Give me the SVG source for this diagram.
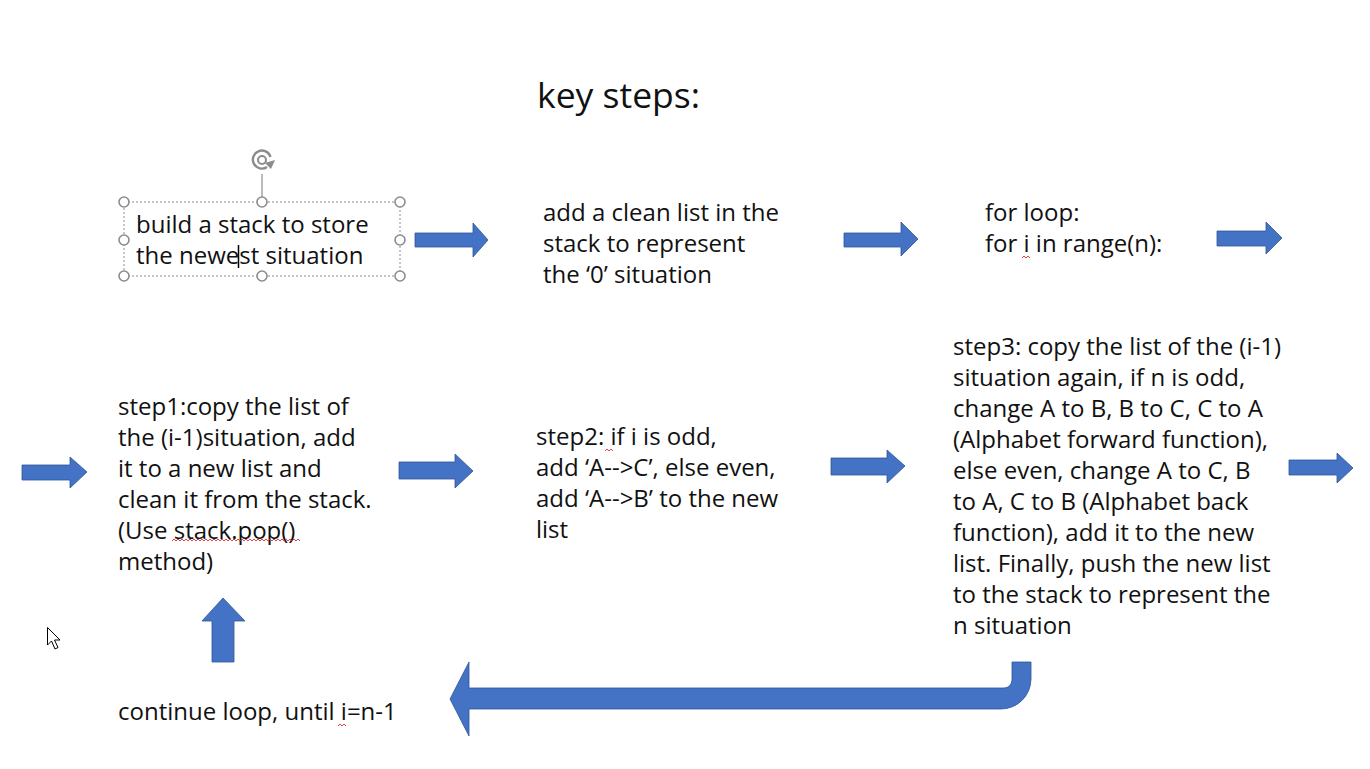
<svg xmlns="http://www.w3.org/2000/svg" width="1370" height="769" viewBox="0 0 1370 769">
<style>
  text { font-family: "Open Sans", "Liberation Sans", sans-serif; font-size: 24px; fill: #111; }
  .title { font-size: 35.5px; }
  .arrow { fill: #4472C4; stroke: #2F5597; stroke-width: 0.8; }
  .handle { fill: #fff; stroke: #8c8c8c; stroke-width: 1.6; }
  .sel { fill: none; stroke: #8c8c8c; stroke-width: 1; stroke-dasharray: 2 2; }
  .squig { fill: none; stroke: #e03030; stroke-width: 0.9; }
</style>
<rect width="1370" height="769" fill="#fff"/>

<g id="title"><text class="title" x="537" y="108">key steps:</text></g>

<g id="node-build">
  <rect class="sel" x="124" y="202" width="276" height="74"/>
  <line x1="262" y1="202" x2="262" y2="174" stroke="#8c8c8c" stroke-width="1.2"/>
  <path d="M270.5,157 A9,9 0 1 0 267,167" fill="none" stroke="#8c8c8c" stroke-width="2.4"/>
  <circle cx="262" cy="160" r="4" fill="none" stroke="#8c8c8c" stroke-width="2"/>
  <path d="M265,163 L275,160 L271,169 Z" fill="#8c8c8c"/>
  <circle class="handle" cx="124" cy="202" r="5"/>
  <circle class="handle" cx="262" cy="202" r="5"/>
  <circle class="handle" cx="400" cy="202" r="5"/>
  <circle class="handle" cx="124" cy="240" r="5"/>
  <circle class="handle" cx="400" cy="240" r="5"/>
  <circle class="handle" cx="124" cy="276" r="5"/>
  <circle class="handle" cx="262" cy="276" r="5"/>
  <circle class="handle" cx="400" cy="276" r="5"/>
  <text x="136" y="233">build a stack to store</text>
  <text x="136" y="264">the newest situation</text>
  <line x1="238.5" y1="245" x2="238.5" y2="268" stroke="#000" stroke-width="1.5"/>
</g>

<g id="node-clean">
  <text x="543" y="221">add a clean list in the</text>
  <text x="543" y="252">stack to represent</text>
  <text x="543" y="283">the ‘0’ situation</text>
</g>

<g id="node-loop">
  <text x="985" y="221">for loop:</text>
  <text x="985" y="252">for i in range(n):</text>
  <path class="squig" d="M1022,258 l2,-2 l2,2 l2,-2 l2,2"/>
</g>

<g id="node-step1">
  <text x="118" y="415">step1:copy the list of</text>
  <text x="118" y="446">the (i-1)situation, add</text>
  <text x="118" y="477">it to a new list and</text>
  <text x="118" y="508">clean it from the stack.</text>
  <text x="118" y="539">(Use stack.pop()</text>
  <text x="118" y="570">method)</text>
  <path class="squig" d="M172,541 l2,-2 l2,2 l2,-2 l2,2 l2,-2 l2,2 l2,-2 l2,2 l2,-2 l2,2 l2,-2 l2,2 l2,-2 l2,2 l2,-2 l2,2 l2,-2 l2,2 l2,-2 l2,2 l2,-2 l2,2 l2,-2 l2,2 l2,-2 l2,2 l2,-2 l2,2 l2,-2 l2,2 l2,-2 l2,2 l2,-2 l2,2 l2,-2 l2,2 l2,-2 l2,2 l2,-2 l2,2 l2,-2 l2,2 l2,-2 l2,2 l2,-2 l2,2 l2,-2 l2,2 l2,-2 l2,2 l2,-2 l2,2 l2,-2 l2,2 l2,-2 l2,2 l2,-2 l2,2 l2,-2 l2,2 l2,-2 l2,2 l2,-2 l2,2"/>
</g>

<g id="node-step2">
  <text x="536" y="445">step2: if i is odd,</text>
  <text x="536" y="476">add ‘A--&gt;C’, else even,</text>
  <text x="536" y="507">add ‘A--&gt;B’ to the new</text>
  <text x="536" y="538">list</text>
  <path class="squig" d="M605,451 l2,-2 l2,2 l2,-2 l2,2"/>
</g>

<g id="node-step3">
  <text x="953" y="355">step3: copy the list of the (i-1)</text>
  <text x="953" y="386">situation again, if n is odd,</text>
  <text x="953" y="417">change A to B, B to C, C to A</text>
  <text x="953" y="448">(Alphabet forward function),</text>
  <text x="953" y="479">else even, change A to C, B</text>
  <text x="953" y="510">to A, C to B (Alphabet back</text>
  <text x="953" y="541">function), add it to the new</text>
  <text x="953" y="572">list. Finally, push the new list</text>
  <text x="953" y="603">to the stack to represent the</text>
  <text x="953" y="634">n situation</text>
</g>

<g id="node-continue">
  <text x="118" y="720">continue loop, until i=n-1</text>
  <path class="squig" d="M338,726 l2,-2 l2,2 l2,-2 l2,2"/>
</g>

<g id="cursor">
  <path d="M47.5,627.5 L47.5,645 L51.5,641 L55,649 L58,647.5 L54.5,640 L60,640 Z" fill="#fff" stroke="#000" stroke-width="1"/>
</g>

<g id="connectors">
  <polygon class="arrow" points="415,233 473,233 473,223 488,240 473,257 473,247 415,247"/>
  <polygon class="arrow" points="844,233 901,233 901,222 918,239 901,256 901,247 844,247"/>
  <polygon class="arrow" points="1217,231 1266,231 1266,222 1282,238 1266,254 1266,246 1217,246"/>
  <polygon class="arrow" points="22,465 70,465 70,457 87,472 70,488 70,480 22,480"/>
  <polygon class="arrow" points="399,462 455,462 455,454 473,471 455,488 455,479 399,479"/>
  <polygon class="arrow" points="831,458 887,458 887,450 905,466 887,483 887,475 831,475"/>
  <polygon class="arrow" points="1289,460 1337,460 1337,453 1353,468 1337,483 1337,475 1289,475"/>
  <polygon class="arrow" points="212,662 212,621 202,621 223,598 245,621 234,621 234,662"/>
  <path class="arrow" d="M1031,662 L1031,679 A30,30 0 0 1 1001,709 L469,709 L469,736 L450,699 L469,662 L469,688 L1004,688 A8,8 0 0 0 1012,680 L1012,662 Z"/>
</g>
</svg>
